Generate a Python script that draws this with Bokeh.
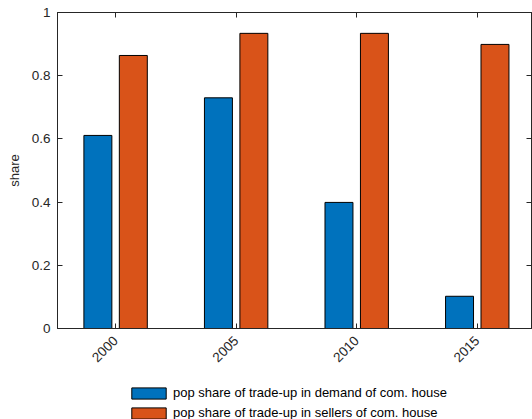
import math
from bokeh.plotting import figure
from bokeh.layouts import column
from bokeh.models import (ColumnDataSource, Range1d, FixedTicker, LinearAxis,
                          Legend, LegendItem)
from bokeh.transform import dodge
from bokeh.embed import file_html
from bokeh.resources import INLINE

# Data
years = [2000, 2005, 2010, 2015]
year_labels = ["2000", "2005", "2010", "2015"]
demand_share = [0.611, 0.730, 0.399, 0.102]
seller_share = [0.864, 0.934, 0.934, 0.899]
y_ticks = [0, 0.2, 0.4, 0.6, 0.8, 1]
y_tick_labels = ["0", "0.2", "0.4", "0.6", "0.8", "1"]
series_names = ["pop share of trade-up in demand of com. house",
                "pop share of trade-up in sellers of com. house"]

BLUE = "#0072BD"
ORANGE = "#D95319"
AXIS = "#262626"
FONT = "Liberation Sans"

src = ColumnDataSource(dict(year=years, demand=demand_share, seller=seller_share))

p = figure(width=532, height=381, output_backend="svg", toolbar_location=None,
           x_range=Range1d(1997.59, 2017.25), y_range=Range1d(0, 1),
           min_border_left=57, min_border_right=1, min_border_top=12,
           min_border_bottom=53)
p.xgrid.visible = False
p.ygrid.visible = False
p.outline_line_color = AXIS
p.outline_line_width = 1
p.background_fill_color = "white"
p.border_fill_color = "white"

bar_w = 1.16
style = dict(line_color="black", line_width=1, line_join="miter")
p.vbar(x=dodge("year", -0.735, range=p.x_range), top="demand", width=bar_w,
       source=src, fill_color=BLUE, **style)
p.vbar(x=dodge("year", 0.735, range=p.x_range), top="seller", width=bar_w,
       source=src, fill_color=ORANGE, **style)

# Bottom / left axes, ticks pointing inward
xa = p.xaxis[0]
xa.ticker = FixedTicker(ticks=years)
xa.major_label_overrides = {y: l for y, l in zip(years, year_labels)}
xa.major_label_orientation = math.pi / 4
ya = p.yaxis[0]
ya.ticker = FixedTicker(ticks=y_ticks)
ya.major_label_overrides = {t: l for t, l in zip(y_ticks, y_tick_labels)}
ya.axis_label = "share"

for ax in (xa, ya):
    ax.major_tick_in = 5
    ax.major_tick_out = 0
    ax.minor_tick_line_color = None
    ax.axis_line_color = AXIS
    ax.major_tick_line_color = AXIS
    ax.major_label_text_font = FONT
    ax.major_label_text_font_size = "13.5px"
    ax.major_label_text_color = AXIS
    ax.axis_label_text_font = FONT
    ax.axis_label_text_font_size = "13px"
    ax.axis_label_text_font_style = "normal"
    ax.axis_label_text_color = AXIS
xa.major_label_standoff = 10
ya.major_label_standoff = 7
ya.axis_label_standoff = 7

# Mirrored inward ticks on the top and right edges
top = LinearAxis(ticker=FixedTicker(ticks=years))
right = LinearAxis(ticker=FixedTicker(ticks=y_ticks))
for ax in (top, right):
    ax.major_tick_in = 5
    ax.major_tick_out = 0
    ax.minor_tick_line_color = None
    ax.axis_line_color = AXIS
    ax.major_tick_line_color = AXIS
    ax.major_label_text_font_size = "0px"
    ax.major_label_text_color = None
    ax.major_label_standoff = 0
p.add_layout(top, "above")
p.add_layout(right, "right")

# Legend strip below the chart (its frame lines up with the chart's frame)
lg = figure(width=532, height=38, output_backend="svg", toolbar_location=None,
            x_range=Range1d(0, 1), y_range=Range1d(0, 1),
            x_axis_location=None, y_axis_location=None,
            min_border=0, outline_line_color=None)
lg.xgrid.visible = False
lg.ygrid.visible = False
# hidden key renderers: they only supply the legend swatches
k1 = lg.vbar(x="year", top="demand", width=bar_w, source=src, fill_color=BLUE,
             visible=False, **style)
k2 = lg.vbar(x="year", top="seller", width=bar_w, source=src, fill_color=ORANGE,
             visible=False, **style)
legend = Legend(items=[LegendItem(label=series_names[0], renderers=[k1]),
                       LegendItem(label=series_names[1], renderers=[k2])],
                location=(70, -1), orientation="vertical",
                padding=0, margin=0, spacing=5,
                glyph_width=43, glyph_height=14, label_standoff=3,
                label_text_font=FONT, label_text_font_size="13px",
                label_text_color="black", label_height=14,
                border_line_color=None, background_fill_alpha=0)
lg.add_layout(legend, "center")

open("out.html", "w").write(file_html(column(p, lg, spacing=0), INLINE))
